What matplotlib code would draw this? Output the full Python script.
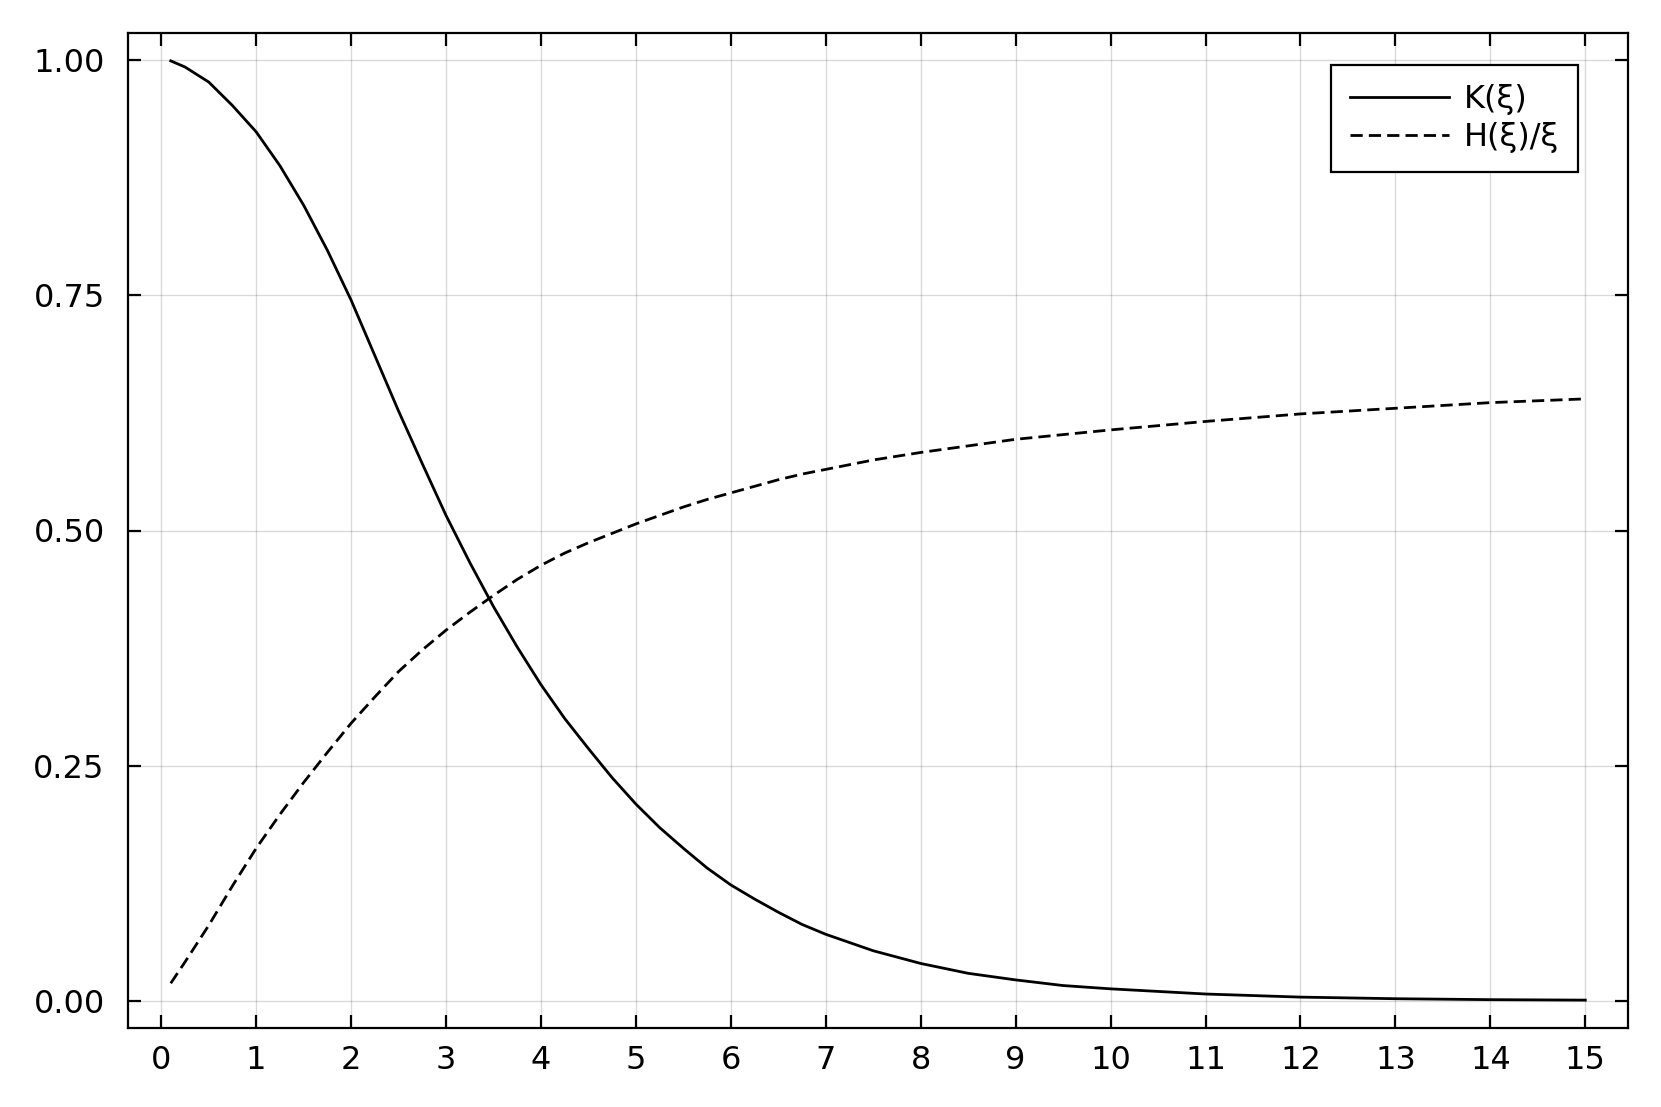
import matplotlib
matplotlib.use("Agg")
import matplotlib.pyplot as plt

# ---- data ----
xi = [0.1, 0.25, 0.5, 0.75, 1.0, 1.25, 1.5, 1.75, 2.0, 2.25, 2.5, 2.75, 3.0,
      3.25, 3.5, 3.75, 4.0, 4.25, 4.5, 4.75, 5.0, 5.25, 5.5, 5.75, 6.0, 6.25,
      6.5, 6.75, 7.0, 7.5, 8.0, 8.5, 9.0, 9.5, 10.0, 11.0, 12.0, 13.0, 14.0,
      15.0]
K = [0.9995, 0.993, 0.977, 0.952, 0.924, 0.888, 0.846, 0.798, 0.745, 0.686,
     0.627, 0.571, 0.516, 0.466, 0.419, 0.376, 0.336, 0.300, 0.268, 0.237,
     0.209, 0.184, 0.162, 0.141, 0.123, 0.108, 0.094, 0.081, 0.0705, 0.053,
     0.0395, 0.029, 0.022, 0.016, 0.0125, 0.007, 0.0037, 0.002, 0.001, 0.0005]
H_over_xi = [0.0184, 0.041, 0.080, 0.122, 0.162, 0.198, 0.232, 0.264, 0.295,
             0.323, 0.350, 0.373, 0.394, 0.413, 0.431, 0.448, 0.463, 0.476,
             0.487, 0.497, 0.507, 0.516, 0.525, 0.533, 0.540, 0.547, 0.554,
             0.560, 0.565, 0.575, 0.583, 0.590, 0.597, 0.602, 0.607, 0.616,
             0.624, 0.630, 0.636, 0.640]
labels = ["K(ξ)", "H(ξ)/ξ"]
xticks = list(range(0, 16))
yticks = [0.0, 0.25, 0.5, 0.75, 1.0]
yticklabels = ["0.00", "0.25", "0.50", "0.75", "1.00"]

plt.rcParams['font.family'] = ['DejaVu Sans']
W, H = 1661, 1107
fig = plt.figure(figsize=(W / 100, H / 100), dpi=100)
left, right, top, bottom = 128.3, 1627.7, 32.7, 1028.3
ax = fig.add_axes([left / W, 1 - bottom / H, (right - left) / W, (bottom - top) / H])

ax.plot(xi, K, color='black', lw=2.0, solid_joinstyle='round', label=labels[0])
ax.plot(xi, H_over_xi, color='black', lw=2.0, dashes=(4.4, 2.2),
        dash_joinstyle='round', label=labels[1])

pad_x = 0.03 * (max(xi) - min(xi))
ax.set_xlim(min(xi) - pad_x, max(xi) + pad_x)
ymin = min(min(K), min(H_over_xi))
ymax = max(max(K), max(H_over_xi))
pad_y = 0.03 * (ymax - ymin)
ax.set_ylim(ymin - pad_y, ymax + pad_y)

ax.set_xticks(xticks)
ax.set_xticklabels([str(t) for t in xticks])
ax.set_yticks(yticks)
ax.set_yticklabels(yticklabels)

ax.grid(True, color='#000000', alpha=0.15, lw=1.0)
ax.set_axisbelow(True)
for s in ax.spines.values():
    s.set_linewidth(1.6)
    s.set_color('black')
ax.tick_params(axis='both', direction='in', length=9.5, width=1.6,
               top=True, right=True, labelsize=23, colors='black')
ax.tick_params(axis='x', pad=12)
ax.tick_params(axis='y', pad=17)

leg = ax.legend(loc='upper right', bbox_to_anchor=(0.9669, 0.9676),
                borderaxespad=0, fontsize=23, frameon=True, fancybox=False,
                handlelength=3.1, handletextpad=0.45, borderpad=0.6,
                labelspacing=0.22)
leg.get_frame().set_edgecolor('black')
leg.get_frame().set_linewidth(1.6)
leg.get_frame().set_alpha(1)

fig.savefig("out.png", dpi=100)
